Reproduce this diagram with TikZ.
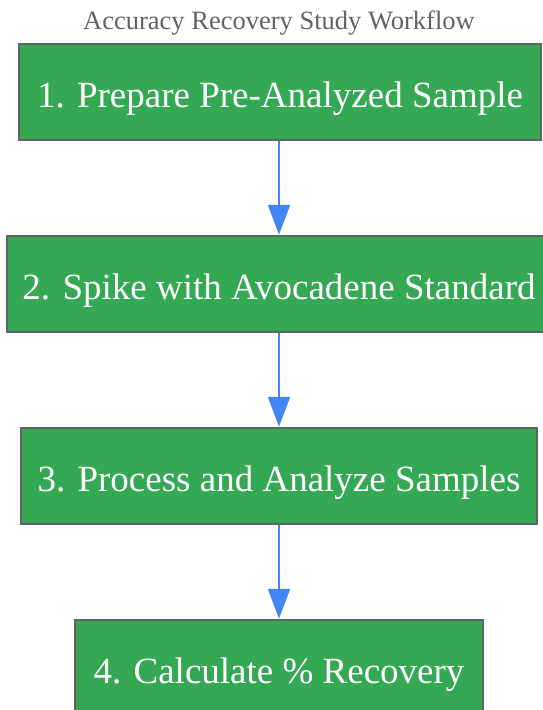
\documentclass[tikz,border=0pt]{standalone}
\usepackage{fontspec}
\setmainfont{Liberation Serif}
\usetikzlibrary{arrows.meta}
\definecolor{boxgreen}{HTML}{34A853}
\definecolor{boxborder}{HTML}{5F6368}
\definecolor{arrowblue}{HTML}{4285F4}
\definecolor{titlegray}{HTML}{5F6368}
\tikzset{
  stepbox/.style={draw=boxborder, fill=boxgreen, line width=2.5pt, minimum height=96pt, inner sep=0pt, text height=30pt, text depth=0pt, text=white, font=\fontsize{37}{40}\selectfont},
  flowarrow/.style={draw=arrowblue, line width=2pt, -{Triangle[length=30pt,width=22pt]}},
}
\begin{document}
\begin{tikzpicture}
\useasboundingbox (0,0) rectangle (543pt,-710pt);
\node[text=titlegray, font=\fontsize{26.5}{30}\selectfont, inner sep=0pt, text height=20pt, text depth=0pt, anchor=base] (title) at (279pt,-29pt) {Accuracy Recovery Study Workflow};
\node[stepbox, minimum width=522pt] (s1) at (280pt,-92pt) {1. Prepare Pre-Analyzed Sample};
\node[stepbox, minimum width=544pt] (s2) at (279pt,-284pt) {2. Spike with Avocadene Standard};
\node[stepbox, minimum width=516pt] (s3) at (279pt,-476pt) {3. Process and Analyze Samples};
\node[stepbox, minimum width=408pt] (s4) at (279pt,-668pt) {4. Calculate \% Recovery};
\draw[flowarrow] (s1.south -| s2.north) -- (s2.north);
\draw[flowarrow] (s2) -- (s3);
\draw[flowarrow] (s3) -- (s4);
\end{tikzpicture}
\end{document}
